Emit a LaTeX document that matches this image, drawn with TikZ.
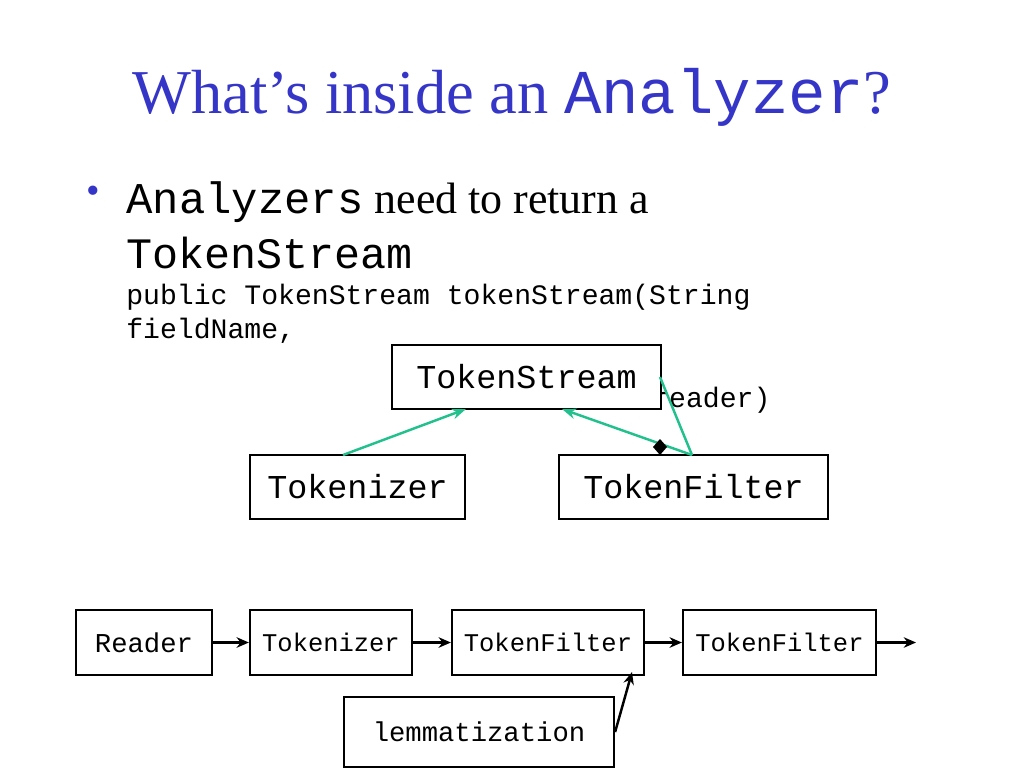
\documentclass[tikz,border=0pt]{standalone}
\usepackage{fontspec}
\setmainfont{Liberation Serif}
\setmonofont{Liberation Mono}
\usetikzlibrary{arrows.meta}
\definecolor{tblue}{HTML}{3535C8}
\definecolor{tgreen}{HTML}{22C08C}
\begin{document}
\begin{tikzpicture}[x=0.02cm,y=-0.02cm,
  big/.style={draw=black,line width=1.3pt,fill=white,inner sep=0pt,font=\ttfamily\fontsize{19}{19}\selectfont},
  small/.style={draw=black,line width=1.3pt,fill=white,inner sep=0pt,font=\ttfamily\fontsize{14.5}{14.5}\selectfont},
  garr/.style={tgreen,line width=1.4pt,-{Stealth[length=8pt,width=6pt]}},
  barr/.style={black,line width=2pt,-{Stealth[length=7pt,width=6pt]}}]
\useasboundingbox (0,0) rectangle (1024,768);
\node[tblue,font=\fontsize{35.5}{36}\selectfont,anchor=base] (title) at (512,113) {What’s inside an \texttt{Analyzer}?};
\node[tblue,font=\fontsize{22}{22}\selectfont,anchor=base] (bul) at (93,203) {•};
\node[anchor=base west,inner sep=0pt,font=\fontsize{25}{25}\selectfont] (l1) at (126,213) {\texttt{Analyzers} need to return a};
\node[anchor=base west,inner sep=0pt,font=\ttfamily\fontsize{24.7}{25}\selectfont] (l2) at (126,268) {TokenStream};
\node[anchor=base west,inner sep=0pt,font=\ttfamily\fontsize{16}{16}\selectfont] (l3) at (126,304) {public TokenStream tokenStream(String};
\node[anchor=base west,inner sep=0pt,font=\ttfamily\fontsize{16}{16}\selectfont] (l4) at (126,338) {fieldName,};
\node[anchor=base west,inner sep=0pt,font=\ttfamily\fontsize{16}{16}\selectfont] (l5) at (652,407) {reader)};
\node[big,minimum width=5.38cm,minimum height=1.28cm] (ts) at (526.5,377) {TokenStream};
\node[big,minimum width=4.3cm,minimum height=1.28cm] (tk) at (357.5,487) {Tokenizer};
\node[big,minimum width=5.38cm,minimum height=1.28cm] (tf) at (693.5,487) {TokenFilter};
\node[small,minimum width=2.72cm,minimum height=1.3cm,font=\ttfamily\fontsize{15.5}{15.5}\selectfont] (r) at (144,642.5) {Reader};
\node[small,minimum width=3.24cm,minimum height=1.3cm] (t2) at (331,642.5) {Tokenizer};
\node[small,minimum width=3.84cm,minimum height=1.3cm] (f1) at (548,642.5) {TokenFilter};
\node[small,minimum width=3.86cm,minimum height=1.3cm] (f2) at (779.5,642.5) {TokenFilter};
\node[small,minimum width=5.4cm,minimum height=1.4cm,font=\ttfamily\fontsize{15.5}{15.5}\selectfont] (lem) at (479,732) {lemmatization};
\coordinate (end) at (916,642.5);
\coordinate (tkt) at (343,455);
\coordinate (tst1) at (466,409);
\coordinate (tst2) at (562,409);
\coordinate (tsr) at (660,377);
\coordinate (tft) at (692,455);
\coordinate (dia) at (660,447);
\draw[garr] (tkt) -- (tst1);
\draw[garr] (tft) -- (tst2);
\draw[tgreen,line width=1.4pt] (tft) -- (tsr);
\fill[black] (dia) ++(0,-8) -- ++(7,8) -- ++(-7,8) -- ++(-7,-8) -- cycle;
\draw[barr] (r) -- (t2);
\draw[barr] (t2) -- (f1);
\draw[barr] (f1) -- (f2);
\draw[barr] (f2) -- (end);
\draw[black,line width=1.4pt,-{Stealth[length=7pt,width=6pt]}] (lem.east) -- (632,672);
\end{tikzpicture}
\end{document}
